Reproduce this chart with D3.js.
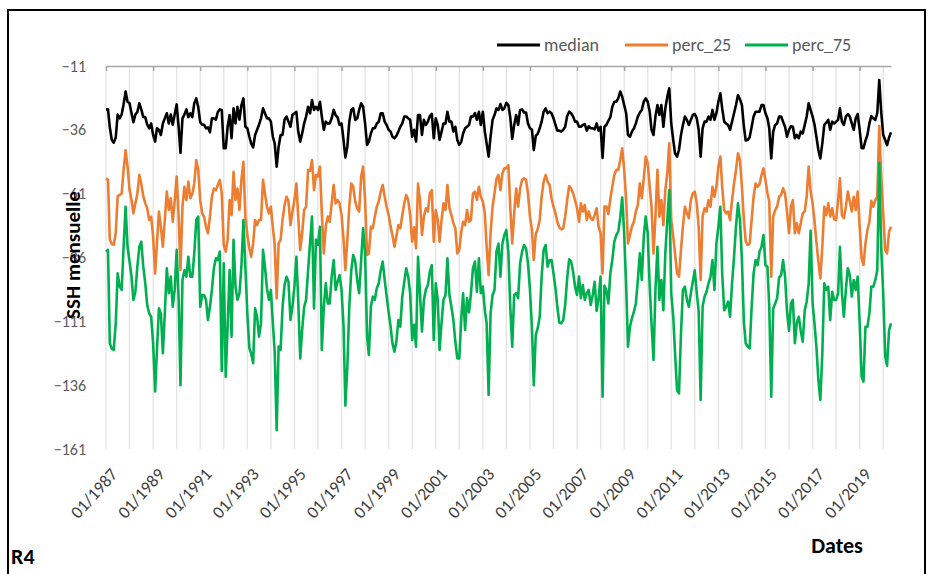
<!DOCTYPE html>
<html>
<head>
<meta charset="utf-8">
<script src="https://cdn.jsdelivr.net/npm/d3@7"></script>
<style>
  body { margin: 0; background: #fff; }
  svg { display: block; }
  text { font-family: Carlito, Lato, "Liberation Sans", sans-serif; }
</style>
</head>
<body>
<svg id="chart" width="931" height="574"></svg>
<script>
// monthly series, 01/1987 -> 05/2020 (401 months)
const median = [
  -28, -28, -35, -40, -41, -39, -30, -31.5, -30, -26,
  -21, -25, -25.6, -29.5, -33, -30, -29, -25.6, -28, -31,
  -31, -34, -35.4, -33.5, -38, -40.6, -35.4, -36, -38, -33.5,
  -31.5, -29.5, -33.5, -30, -34, -30, -26, -35, -45, -31.5,
  -30, -28, -31, -29.5, -31, -25.6, -23.7, -27, -33, -34,
  -34, -35.4, -35, -37, -31.5, -31.5, -32, -29, -28, -28.2,
  -43.2, -43.2, -34.8, -30.2, -39.3, -27.6, -33.5, -27, -32, -26.3,
  -23.7, -34.8, -35.4, -38.7, -41.3, -42.9, -38, -36, -34, -31.5,
  -27.6, -29.5, -31.5, -31.5, -32.8, -38.7, -41.3, -50.4, -42.6, -38,
  -38, -32, -30.8, -32.8, -34.8, -30.2, -29.5, -29, -36.7, -40.6,
  -37.4, -33.5, -30.8, -27, -29.5, -24.3, -28.2, -27, -28.2, -25,
  -30.8, -36, -32.8, -33.5, -33.5, -31.5, -28.2, -30.2, -31.1, -34.1,
  -33.5, -40, -46.8, -42.6, -32.8, -28.2, -27.6, -32.1, -31.5, -28.2,
  -25.6, -27, -33.5, -41.9, -40.6, -37.4, -35.4, -35.4, -33.5, -32.8,
  -29.5, -29.5, -32.8, -34.1, -36, -36.7, -38.7, -39.3, -38.4, -36.7,
  -34.8, -33.5, -30.8, -30.8, -31.5, -32.1, -38.7, -36, -40.6, -30.2,
  -30.2, -38, -32.1, -34.1, -32.8, -30.6, -29.8, -39.3, -31.5, -34.1,
  -40, -36.7, -33.5, -33.5, -28.9, -32.8, -32.8, -36.7, -34.8, -40,
  -41.9, -40.6, -37.4, -35.4, -34.8, -34.1, -30.8, -30.8, -29.5, -32.1,
  -28.9, -34.1, -28.9, -36.7, -41.3, -46.5, -38.7, -32.1, -30.2, -27.6,
  -28.2, -25.9, -28.2, -27.6, -25.4, -26.3, -31, -39.5, -34.1, -30.2,
  -34.1, -28.2, -28, -29.2, -29.2, -33.5, -35.4, -36, -43.9, -38.4,
  -37.6, -35.4, -32.8, -28.9, -27.6, -29.5, -28.9, -29.5, -31.5, -34.1,
  -36.3, -36.3, -36.7, -36, -34.8, -30.6, -28.9, -29.5, -30.8, -32.8,
  -32.8, -34.8, -34.8, -34.1, -33.8, -36.3, -34.6, -35.4, -35.4, -35.8,
  -33.5, -36.3, -34.8, -47, -34.8, -34, -32.5, -31, -27, -25,
  -25, -23.7, -21, -23, -26.3, -29.5, -38, -38.7, -36.7, -35.4,
  -33.5, -30.8, -29.2, -28.2, -25, -23.7, -25, -28.9, -36, -38,
  -30.8, -26.3, -30.2, -26.3, -34.8, -27.6, -23, -19.7, -33.5, -40,
  -45.2, -46.5, -43.9, -38, -34.1, -30.8, -32.1, -34.1, -32.1, -30.2,
  -29.8, -31.5, -36, -46.5, -35.4, -32.8, -32.8, -30.8, -32.1, -28.2,
  -32.1, -29.5, -25, -21.7, -27.6, -32.8, -33.5, -34.1, -36, -32.8,
  -29.5, -26.3, -22.4, -24, -26.3, -34.8, -40.2, -40, -38.9, -34.8,
  -30.8, -28.9, -28.9, -28.9, -26.3, -26.3, -29.5, -31.5, -35.4, -47.2,
  -36.7, -34.1, -33.5, -30.8, -30.8, -32.8, -34.8, -38.7, -36, -34.6,
  -34.8, -39.3, -38, -39.3, -36.7, -37.4, -34.1, -30.8, -25.6, -28.2,
  -30.8, -34.1, -38.7, -43.9, -47.2, -41.3, -34.1, -33.2, -32.1, -36,
  -32.8, -33.5, -32.8, -32.1, -27.6, -32.8, -34.1, -30.8, -29.8, -30.8,
  -33.5, -36, -31.5, -29.8, -36, -43.2, -43.2, -40.2, -38, -33.5,
  -30.6, -31.5, -32.1, -29.5, -16.5, -29, -38, -40, -42, -39,
  -37
];

const perc25 = [
  -55, -55.6, -79, -80.7, -81, -76.5, -62, -61.5, -61, -51.7,
  -44, -50.4, -59.6, -63.5, -68.7, -64.8, -61, -53.7, -57, -62,
  -64.8, -66.7, -71.3, -70, -77.8, -92.2, -80.5, -68, -74, -81.8,
  -71.3, -60.2, -67.4, -62.8, -72, -64, -54.3, -70, -90.9, -66,
  -58.3, -63.5, -56.3, -62.8, -61, -57, -47.8, -51.7, -63.5, -68.7,
  -70, -74, -76.5, -70, -62.2, -59, -59.6, -57.6, -55.6, -60.9,
  -81.1, -83.7, -79.1, -63.5, -69.4, -52.4, -63.5, -59, -67.4, -55.6,
  -48.5, -70, -77.2, -82.4, -85.7, -80.5, -71.3, -73.3, -71.3, -71.3,
  -55.6, -60.9, -66.1, -68.7, -66.1, -74.2, -81.1, -102, -80.5, -79.1,
  -71.3, -65.4, -62.2, -64, -73.3, -68, -63.5, -57, -70, -83,
  -76.5, -67.4, -66.1, -51.7, -52, -47.8, -59.6, -53.7, -54.3, -50.4,
  -68.7, -84.4, -73.9, -70, -72, -64.8, -57.6, -64.8, -63.5, -64.8,
  -69.4, -79.1, -90.9, -79.1, -66.1, -57, -58.3, -64.1, -66.7, -68,
  -54.3, -50.4, -63.5, -85, -84.4, -73.9, -74.6, -70, -66.1, -64.1,
  -60.2, -57.6, -62.2, -66.1, -69.4, -73.9, -77.2, -81.8, -77.8, -73.3,
  -74.6, -69.4, -64.8, -61.5, -63.5, -69.4, -79.8, -74.2, -82.4, -57,
  -63.5, -77.2, -70, -66.7, -68, -60.9, -59.6, -79.8, -67.4, -71.3,
  -79.8, -71.3, -64.8, -67.4, -57.6, -66.7, -69.4, -72.6, -74.6, -84.4,
  -83, -75.9, -72, -73.3, -67.4, -72, -71.3, -60.9, -60.2, -63.5,
  -58.3, -62.2, -64.1, -68.7, -81.8, -92.9, -76.5, -66.1, -60.9, -55,
  -53.7, -59.6, -53, -51.1, -51.1, -49.8, -66, -80.5, -68.7, -59,
  -66.1, -59, -55.6, -55, -55.6, -60.9, -70, -75.2, -87, -76.8,
  -74.9, -71.3, -62.2, -56.3, -53.7, -56.3, -57.6, -62.8, -66.1, -68.7,
  -72, -74.2, -75, -74.6, -70, -63.5, -58, -59, -60.9, -63.5,
  -66.7, -72, -64.8, -68, -65.4, -71.3, -68, -70.6, -71.3, -69.4,
  -66.7, -73.9, -76.5, -92.2, -66, -66, -69, -63, -58.3, -53.7,
  -51.7, -51.7, -47.8, -43.2, -51.7, -63.5, -80.5, -77.2, -73.9, -72,
  -68, -65.4, -57, -62.8, -55, -46.5, -49.1, -58.3, -66.1, -84.4,
  -70, -51.7, -70, -63.5, -73.3, -59.6, -53, -41.3, -71.3, -77.8,
  -84.4, -92.2, -93.5, -83, -73.9, -66.1, -68.7, -70.6, -63.5, -60.9,
  -60.2, -64.8, -73.9, -94.8, -70, -66.7, -68, -63.5, -66.1, -58.3,
  -62.2, -58.3, -50.4, -46.5, -58.3, -67.4, -68.7, -68, -71.3, -63.5,
  -57, -51.7, -45.2, -47.8, -58.3, -71.3, -79.8, -81.1, -80.5, -71.3,
  -62.2, -57, -58.3, -57.3, -53.7, -51.1, -55.6, -60.9, -64.1, -93.5,
  -70, -67.4, -66.1, -62.2, -61.5, -58.9, -60.9, -68, -76.5, -66.1,
  -63.5, -76.5, -72.6, -76.5, -72.6, -68.7, -68, -62.2, -50.4, -60,
  -64.8, -72, -79.8, -87.6, -94.2, -81.8, -66.1, -69.4, -64.8, -70,
  -66.7, -71, -71.3, -63.5, -55, -69.4, -70.6, -66.1, -60.2, -64.1,
  -68, -62.2, -67.4, -60.2, -73.9, -86.3, -88.9, -80.5, -75.3, -72,
  -63.8, -66.1, -63.5, -62.2, -34.5, -54.3, -68.7, -83.1, -84.4, -75.9,
  -73.9
];

const perc75 = [
  -83.7, -83, -119.6, -121.8, -122.2, -111.8, -92.2, -97.4, -98.7, -81.8,
  -66.1, -81.8, -87.6, -93.5, -102.6, -99.4, -89.6, -81.8, -79.8, -89.6,
  -96.1, -104.6, -107.9, -109.2, -119.6, -138.5, -122.2, -105.9, -107.9, -123.5,
  -107.9, -90.2, -100, -93.5, -105.3, -98.7, -83, -102.6, -136, -94.8,
  -91, -93.5, -85.7, -93.5, -93.5, -84.4, -71.3, -70, -105.3, -100.7,
  -100.7, -102.6, -110.5, -105.3, -98.7, -90.2, -86.3, -87, -83.7, -130.4,
  -88.3, -132.7, -113.1, -90.9, -117, -79.1, -97.4, -102.6, -100, -89.6,
  -71.3, -89.6, -107.9, -121.6, -123.5, -127.4, -105.9, -109.2, -117, -111.8,
  -83, -89.6, -98.1, -102.6, -98.7, -111.8, -122.9, -153.6, -120.9, -122.2,
  -105.3, -96.8, -93.5, -95.5, -110.5, -105.3, -97.4, -85.7, -102.6, -125.5,
  -114.4, -105.3, -102.6, -91, -80, -70, -106, -79, -81, -74,
  -122.2, -105.3, -96.1, -104, -104, -93.5, -87, -98.7, -95.5, -92.9,
  -98.7, -113.1, -144, -128.7, -105.3, -91, -85, -87.6, -94.8, -100,
  -87, -74.6, -84.4, -117, -124.2, -105.3, -101.3, -102.6, -98.1, -96.1,
  -91, -87.6, -94.8, -101, -107.5, -113.1, -119.6, -122.9, -119, -110.5,
  -113.1, -101.3, -95.5, -90.2, -93.5, -100, -118.3, -112.4, -120.9, -85.7,
  -100, -115, -102.6, -98.5, -96.8, -91.6, -89, -118.3, -96.1, -102.6,
  -122.2, -111.5, -102.6, -100.7, -86.3, -100.7, -105.3, -110.5, -119, -125.5,
  -125.5, -109.8, -100, -114.4, -101.9, -107.5, -100, -90.2, -87.6, -99.4,
  -86.3, -100, -97.4, -106.6, -111.8, -139.8, -107.9, -100.7, -98.7, -83.7,
  -80.5, -93.5, -80.5, -77.2, -75.2, -84, -105, -120.9, -100.7, -100,
  -101.9, -88.3, -83.7, -81.1, -82.4, -88.3, -98.7, -113.7, -136, -116.3,
  -113.7, -109.2, -93.5, -83, -81.1, -89.6, -87, -87, -92.2, -98.1,
  -105.3, -111.5, -111.8, -110.5, -104.6, -94.2, -86.7, -87.6, -91.6, -97.4,
  -100.7, -93.5, -101.9, -96.8, -102.6, -100, -98.7, -104.6, -100.7, -95.5,
  -106.9, -101.9, -93.5, -140.5, -97, -99, -104, -92, -87, -79.8,
  -77.2, -75.9, -70.3, -62.5, -76.5, -97.4, -120.9, -113.1, -109.8, -107.2,
  -104, -94.8, -84.4, -94.8, -77.8, -70, -76.5, -97.4, -111.8, -126.1,
  -98.7, -81.8, -102.6, -94.8, -106.6, -84.4, -71.3, -59.6, -100, -109.2,
  -123.5, -137.9, -139.2, -115.7, -98.7, -97.4, -102.6, -105.3, -100, -95.5,
  -91, -100, -106.9, -141.8, -105.3, -101.3, -99.4, -96.1, -93.5, -87,
  -98.7, -80.5, -74, -66.1, -92.2, -106.6, -105.3, -103.3, -109.2, -96.1,
  -85.7, -73.9, -64.8, -71.3, -87, -111.5, -119.6, -120.9, -121.6, -105.3,
  -92.2, -87, -89, -83.7, -81.8, -77.2, -89, -89.6, -105.3, -140.5,
  -106, -104, -101.9, -93.8, -92.9, -87, -93.5, -106.9, -114.7, -104,
  -102.6, -119.6, -111.5, -109.2, -114.7, -119, -106.6, -103.3, -96.4, -75.5,
  -104, -112.4, -120.9, -134, -141.8, -123.5, -96.1, -98.7, -97.4, -110.5,
  -99.4, -102.6, -102.6, -100, -81.8, -100, -109.2, -98.7, -90.2, -92.9,
  -101.3, -94.8, -98.7, -93.5, -111.8, -132.7, -134.6, -113.1, -113.1, -107.9,
  -97.4, -97.4, -94.8, -91, -49, -82, -100, -124.8, -128.4, -114.4,
  -111.8
];

const seriesNames = ["median", "perc_25", "perc_75"];
const seriesColors = ["#000000", "#ED7D31", "#00B050"];
const yTicks = [-11, -36, -61, -86, -111, -136, -161];
const labelYears = d3.range(1987, 2020, 2);   // 01/1987 ... 01/2019
const gridYears = d3.range(1987, 2021);

const dates = median.map((_, i) => new Date(1987, i, 1));

const svg = d3.select("#chart");
const margin = { left: 106, right: 891, top: 66, bottom: 449 };

// outer frame
svg.append("rect")
  .attr("x", 8).attr("y", 10)
  .attr("width", 917).attr("height", 620)
  .attr("fill", "none")
  .attr("stroke", "#000")
  .attr("stroke-width", 2);

var x = d3.scaleTime()
  .domain([dates[0], dates[dates.length - 1]])
  .range([margin.left, margin.right]);

var y = d3.scaleLinear()
  .domain([-161, -11])
  .range([margin.bottom, margin.top]);

// yearly vertical gridlines
svg.append("g")
  .selectAll("line")
  .data(gridYears.map(yr => new Date(yr, 0, 1)))
  .enter().append("line")
  .attr("x1", d => x(d)).attr("x2", d => x(d))
  .attr("y1", margin.top).attr("y2", margin.bottom)
  .attr("stroke", "#e3e3e3")
  .attr("stroke-width", 1.3);

// category axis on top (values are negative), ticks pointing inward
var xTop = svg.append("g")
  .attr("transform", "translate(0," + margin.top + ")")
  .call(d3.axisTop(x)
    .tickValues(labelYears.map(yr => new Date(yr, 0, 1)))
    .tickFormat("")
    .tickSizeInner(-5)
    .tickSizeOuter(0));
xTop.select(".domain").attr("stroke", "#a6a6a6").attr("stroke-width", 1.5);
xTop.selectAll(".tick line").attr("stroke", "#a6a6a6").attr("stroke-width", 1.5);

// date labels under the plot
var xBottom = svg.append("g")
  .attr("transform", "translate(0," + margin.bottom + ")")
  .call(d3.axisBottom(x)
    .tickValues(labelYears.map(yr => new Date(yr, 0, 1)))
    .tickFormat(d3.timeFormat("%m/%Y"))
    .tickSize(0));
xBottom.select(".domain").remove();
xBottom.selectAll("text")
  .attr("x", 0).attr("y", 0).attr("dy", null)
  .attr("text-anchor", "end")
  .attr("transform", "translate(12,26) rotate(-48)")
  .attr("font-size", 17.5)
  .attr("fill", "#404040")
  .style("font-family", null);

// value axis labels
var yAxis = svg.append("g")
  .attr("transform", "translate(" + margin.left + ",0)")
  .call(d3.axisLeft(y).tickValues(yTicks).tickFormat(d3.format("d")).tickSize(0).tickPadding(20));
yAxis.select(".domain").remove();
yAxis.selectAll("text")
  .attr("font-size", 16)
  .attr("fill", "#595959")
  .style("font-family", null);

// series
var line = d3.line()
  .x((d, i) => x(dates[i]))
  .y(d => y(d));

[median, perc25, perc75].forEach(function (s, k) {
  svg.append("path")
    .datum(s)
    .attr("fill", "none")
    .attr("stroke", seriesColors[k])
    .attr("stroke-width", 2.6)
    .attr("stroke-linejoin", "round")
    .attr("d", line);
});

// legend
var legendX = [497, 625, 745];
seriesNames.forEach(function (name, k) {
  svg.append("line")
    .attr("x1", legendX[k]).attr("x2", legendX[k] + 43)
    .attr("y1", 45).attr("y2", 45)
    .attr("stroke", seriesColors[k])
    .attr("stroke-width", 3);
  svg.append("text")
    .attr("x", legendX[k] + 47).attr("y", 51)
    .attr("font-size", 18)
    .attr("fill", "#595959")
    .text(name);
});

// titles
svg.append("text")
  .attr("transform", "translate(80,255) rotate(-90)")
  .attr("text-anchor", "middle")
  .attr("font-size", 21)
  .attr("font-weight", "bold")
  .text("SSH mensuelle");

svg.append("text")
  .attr("x", 837).attr("y", 553)
  .attr("text-anchor", "middle")
  .attr("font-size", 22)
  .attr("font-weight", "bold")
  .text("Dates");

svg.append("text")
  .attr("x", 11).attr("y", 564)
  .attr("font-size", 22)
  .attr("font-weight", "bold")
  .text("R4");
</script>
</body>
</html>
